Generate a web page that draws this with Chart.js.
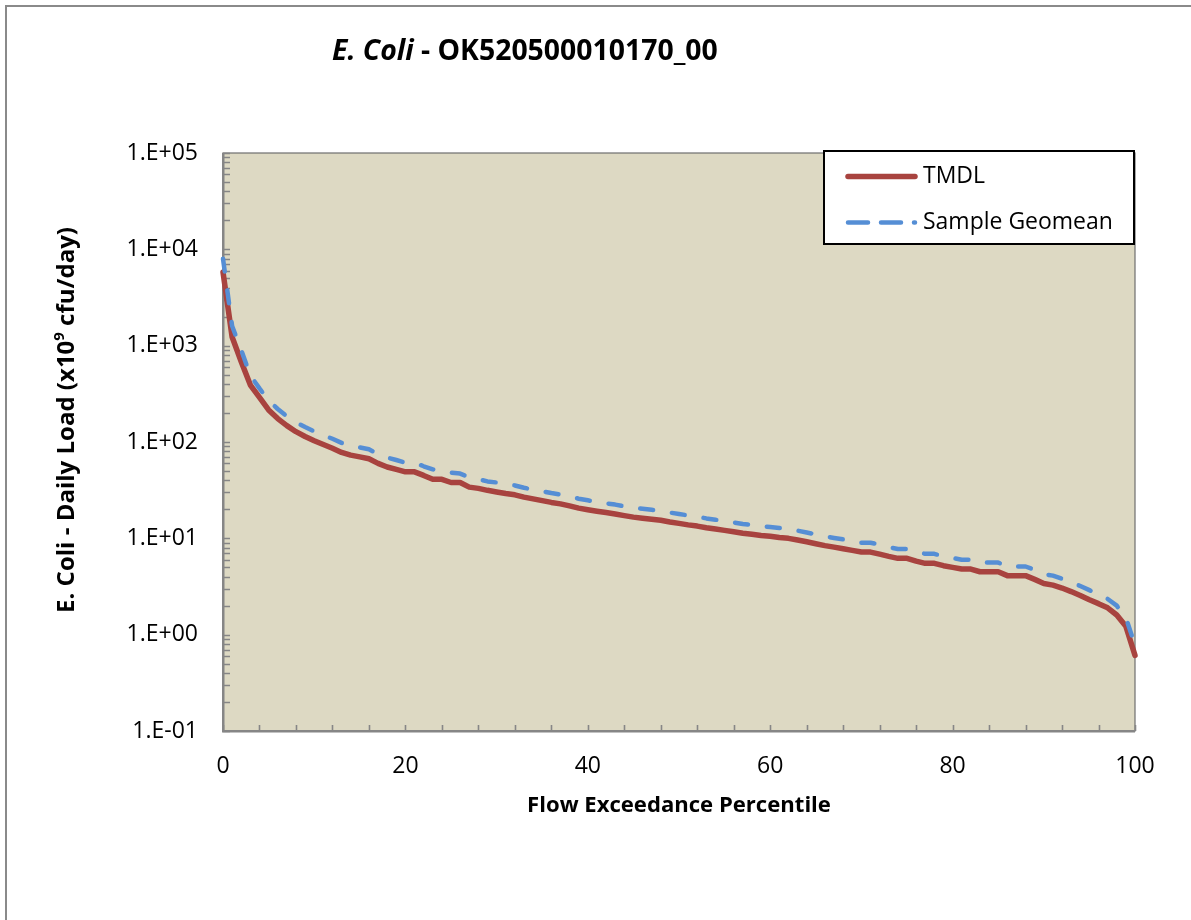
<!DOCTYPE html>
<html>
<head>
<meta charset="utf-8">
<script src="https://cdn.jsdelivr.net/npm/chart.js@4.4.1/dist/chart.umd.min.js"></script>
<style>
html,body{margin:0;padding:0;background:#fff;}
#wrap{position:relative;width:1191px;height:920px;}
canvas{display:block;}
</style>
</head>
<body>
<div id="wrap"><canvas id="c" width="1191" height="920"></canvas></div>
<script>
// ---------- DATA ----------
const percentiles = [0,1,2,3,4,5,6,7,8,9,10,11,12,13,14,15,16,17,18,19,20,21,22,23,24,25,26,27,28,29,30,31,32,33,34,35,36,37,38,39,40,41,42,43,44,45,46,47,48,49,50,51,52,53,54,55,56,57,58,59,60,61,62,63,64,65,66,67,68,69,70,71,72,73,74,75,76,77,78,79,80,81,82,83,84,85,86,87,88,89,90,91,92,93,94,95,96,97,98,99,100];

const tmdlLoad = [5800,1230,680,390,290,215,175,148,128,114,103,94,86,78,73,70,67,60,55,52,49,49,45,41,41,38,38,34,33,31.5,30.3,29.2,28.3,26.8,25.7,24.6,23.6,22.8,21.7,20.6,19.8,19.1,18.5,17.9,17.2,16.6,16.2,15.8,15.4,14.8,14.3,13.8,13.4,12.9,12.5,12.1,11.7,11.3,11.0,10.7,10.5,10.2,10.0,9.6,9.2,8.8,8.4,8.1,7.8,7.5,7.2,7.2,6.85,6.5,6.2,6.2,5.8,5.5,5.5,5.2,5.0,4.8,4.8,4.5,4.5,4.5,4.1,4.1,4.1,3.75,3.4,3.27,3.05,2.8,2.55,2.3,2.1,1.9,1.6,1.22,0.61];

const geomeanLoad = [8000,1600,900,490,360,270,220,185,160,143,129,118,108,98,91,88,84,75,69,65,61,61,56,52,51,48,47,43,41,39,38,36.5,35.4,33.5,32.1,30.8,29.5,28.5,27.1,25.8,24.8,23.9,23.1,22.4,21.5,20.8,20.3,19.8,19.3,18.5,17.9,17.3,16.8,16.1,15.6,15.1,14.6,14.1,13.8,13.4,13.1,12.8,12.5,12.0,11.5,11.0,10.5,10.1,9.75,9.4,9.0,9.0,8.6,8.1,7.75,7.75,7.25,6.9,6.9,6.5,6.25,6.0,6.0,5.6,5.6,5.6,5.1,5.1,5.1,4.7,4.25,4.1,3.8,3.5,3.2,2.9,2.6,2.35,2.0,1.5,0.78];

const xTickValues = [0,20,40,60,80,100];
const xTickLabels = ['0','20','40','60','80','100'];
const yTickValues = [0.1,1,10,100,1000,10000,100000];
const yTickLabels = ['1.E-01','1.E+00','1.E+01','1.E+02','1.E+03','1.E+04','1.E+05'];

const seriesNames = ['TMDL','Sample Geomean'];
const titleItalic = 'E. Coli';
const titleRest = ' - OK520500010170_00';
const yTitleA = 'E. Coli - Daily Load (x10';
const yTitleSup = '9';
const yTitleB = ' cfu/day)';
const xTitle = 'Flow Exceedance Percentile';

// ---------- STYLE ----------
const FAM = "'Open Sans', 'Noto Sans', sans-serif";
const AXIS_GRAY = '#868686';
const mctx = document.createElement('canvas').getContext('2d');
function widthAt(text, weight, style, size){ mctx.font = `${style} ${weight} ${size}px ${FAM}`; return mctx.measureText(text).width; }
function fitSize(parts, target){ // parts: [{t,w,s,scale}]
  let w = 0; parts.forEach(p => { w += widthAt(p.t, p.w, p.s, 100*(p.scale||1)); });
  return 100*target/w;
}
const titleSize = fitSize([{t:titleItalic,w:'bold',s:'italic'},{t:titleRest,w:'bold',s:'normal'}], 386);
const xTitleSize = fitSize([{t:xTitle,w:'bold',s:'normal'}], 304);
const yTitleSize = fitSize([{t:yTitleA,w:'bold',s:'normal'},{t:yTitleSup,w:'bold',s:'normal',scale:0.62},{t:yTitleB,w:'bold',s:'normal'}], 386);
const legendSize = fitSize([{t:seriesNames[1],w:'normal',s:'normal'}], 190);
const TICK_SIZE = 23;

const decor = {
  id: 'decor',
  beforeDraw(chart){
    const {ctx, chartArea:a} = chart;
    ctx.save();
    ctx.fillStyle = '#ffffff';
    ctx.fillRect(0,0,chart.width,chart.height);
    ctx.fillStyle = '#8a8a8a';
    ctx.fillRect(5,5,chart.width-5,2);
    ctx.fillRect(5,5,2,chart.height-5);
    ctx.fillStyle = '#DDD9C3';
    ctx.fillRect(a.left,a.top,a.right-a.left,a.bottom-a.top);
    ctx.restore();
  },
  beforeDatasetsDraw(chart){
    const {ctx, chartArea:a, scales:{x,y}} = chart;
    ctx.save();
    // plot area border
    ctx.strokeStyle = '#6e6e6e';
    ctx.lineWidth = 1.2;
    ctx.strokeRect(a.left, a.top, a.right-a.left, a.bottom-a.top);
    // minor / major tick marks (inside)
    ctx.strokeStyle = AXIS_GRAY;
    ctx.lineWidth = 1.6;
    ctx.beginPath();
    for (let v = x.min; v <= x.max + 1e-9; v += 4){
      const px = Math.round(x.getPixelForValue(v)) + 0.5;
      ctx.moveTo(px, a.bottom); ctx.lineTo(px, a.bottom - 6);
    }
    for (let e = -1; e <= 5; e++){
      for (let m = 1; m <= 9; m++){
        const v = m*Math.pow(10,e);
        if (v < y.min*0.999 || v > y.max*1.001) continue;
        const py = Math.round(y.getPixelForValue(v)) + 0.5;
        ctx.moveTo(a.left, py); ctx.lineTo(a.left + 7, py);
      }
    }
    ctx.stroke();
    // axis lines
    ctx.fillStyle = AXIS_GRAY;
    ctx.fillRect(a.left-1, a.top, 2.5, a.bottom-a.top+1);
    ctx.fillRect(a.left-1, a.bottom-1, a.right-a.left+1, 2.5);
    ctx.restore();
  },
  afterDraw(chart){
    const {ctx} = chart;
    ctx.save();
    // Chart title
    ctx.fillStyle = '#000';
    ctx.textBaseline = 'alphabetic';
    ctx.textAlign = 'left';
    ctx.font = `italic bold ${titleSize}px ${FAM}`;
    const w1 = ctx.measureText(titleItalic).width;
    ctx.fillText(titleItalic, 332, 60);
    ctx.font = `normal bold ${titleSize}px ${FAM}`;
    ctx.fillText(titleRest, 332 + w1, 60);

    // Y title (rotated)
    ctx.save();
    ctx.translate(73.5, 420);
    ctx.rotate(-Math.PI/2);
    const fA = `normal bold ${yTitleSize}px ${FAM}`;
    const fS = `normal bold ${yTitleSize*0.62}px ${FAM}`;
    ctx.font = fA; const wa = ctx.measureText(yTitleA).width; const wb = ctx.measureText(yTitleB).width;
    ctx.font = fS; const ws = ctx.measureText(yTitleSup).width;
    let sx = -(wa+ws+wb)/2;
    ctx.font = fA; ctx.fillText(yTitleA, sx, 0); sx += wa;
    ctx.font = fS; ctx.fillText(yTitleSup, sx, -yTitleSize*0.38); sx += ws;
    ctx.font = fA; ctx.fillText(yTitleB, sx, 0);
    ctx.restore();

    // Legend box
    const bx = 824, by = 151, bw = 310, bh = 93;
    ctx.fillStyle = '#ffffff';
    ctx.fillRect(bx, by, bw, bh);
    ctx.strokeStyle = '#000';
    ctx.lineWidth = 2;
    ctx.strokeRect(bx, by, bw, bh);
    const rows = [176.5, 222.5];
    chart.data.datasets.forEach((ds, i) => {
      const yy = rows[i];
      ctx.save();
      ctx.strokeStyle = ds.borderColor;
      ctx.lineWidth = ds.borderWidth;
      ctx.lineCap = 'round';
      if (ds.borderDash) ctx.setLineDash([20, 13]);
      ctx.beginPath();
      ctx.moveTo(848, yy); ctx.lineTo(915, yy);
      ctx.stroke();
      ctx.restore();
      ctx.fillStyle = '#000';
      ctx.font = `normal normal ${legendSize}px ${FAM}`;
      ctx.textBaseline = 'middle';
      ctx.textAlign = 'left';
      ctx.fillText(ds.label, 923, yy);
    });
    ctx.restore();
  }
};

const ctx = document.getElementById('c').getContext('2d');
new Chart(ctx, {
  type: 'scatter',
  data: {
    datasets: [
      {
        label: seriesNames[0],
        data: percentiles.map((p, i) => ({x: p, y: tmdlLoad[i]})),
        showLine: true,
        borderColor: '#A8433F',
        backgroundColor: '#A8433F',
        borderWidth: 5.5,
        pointRadius: 0,
        borderJoinStyle: 'round',
        borderCapStyle: 'round',
        tension: 0,
        clip: false,
        order: 1
      },
      {
        label: seriesNames[1],
        data: percentiles.map((p, i) => ({x: p, y: geomeanLoad[i]})),
        showLine: true,
        borderColor: '#558ED5',
        backgroundColor: '#558ED5',
        borderWidth: 4.5,
        borderDash: [13, 19],
        pointRadius: 0,
        borderJoinStyle: 'round',
        borderCapStyle: 'round',
        tension: 0,
        clip: false,
        order: 0
      }
    ]
  },
  options: {
    responsive: false,
    animation: false,
    devicePixelRatio: 1,
    layout: { padding: { left: 0, right: 56, top: 153, bottom: 0 } },
    plugins: { legend: { display: false }, tooltip: { enabled: false }, title: { display: false } },
    scales: {
      x: {
        type: 'linear',
        min: 0, max: 100,
        afterBuildTicks: s => { s.ticks = xTickValues.map(v => ({value: v})); },
        ticks: {
          autoSkip: false, maxRotation: 0,
          callback: (v, i) => xTickLabels[i],
          font: { family: FAM, size: TICK_SIZE },
          color: '#000',
          padding: 22
        },
        grid: { display: false, drawTicks: false },
        border: { display: false },
        title: {
          display: true, text: xTitle, color: '#000',
          font: { family: FAM, size: xTitleSize, weight: 'bold' },
          padding: { top: 0, bottom: 920 - 806 - xTitleSize*0.6 }
        },
        afterFit: s => { s.height = 189; }
      },
      y: {
        type: 'logarithmic',
        min: 0.1, max: 100000,
        afterBuildTicks: s => { s.ticks = yTickValues.map(v => ({value: v})); },
        ticks: {
          autoSkip: false,
          callback: (v, i) => yTickLabels[i],
          font: { family: FAM, size: TICK_SIZE },
          color: '#000',
          padding: 25
        },
        grid: { display: false, drawTicks: false },
        border: { display: false },
        afterFit: s => { s.width = 223; }
      }
    }
  },
  plugins: [decor]
});
</script>
</body>
</html>
